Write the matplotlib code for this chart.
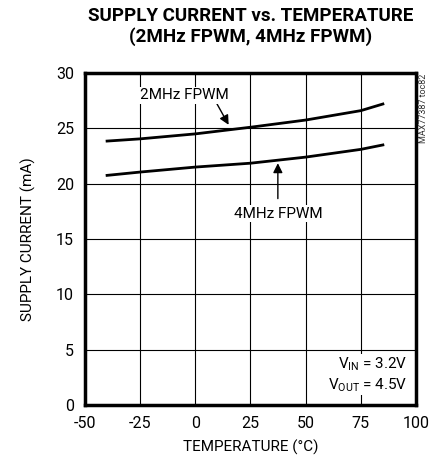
import matplotlib
matplotlib.use('Agg')
import matplotlib.pyplot as plt
from matplotlib import font_manager

names = set(f.name for f in font_manager.fontManager.ttflist)
if 'Liberation Sans Narrow' in names:
    fam = ['Liberation Sans Narrow', 'DejaVu Sans']
else:
    fam = ['Roboto', 'DejaVu Sans']
plt.rcParams['font.family'] = fam
plt.rcParams['mathtext.fontset'] = 'custom'
plt.rcParams['mathtext.rm'] = fam[0]
plt.rcParams['axes.unicode_minus'] = False

# data
temp = [-40, -25, 0, 25, 50, 75, 85]
i_2mhz = [23.85, 24.05, 24.5, 25.1, 25.75, 26.6, 27.2]
i_4mhz = [20.75, 21.05, 21.5, 21.85, 22.4, 23.1, 23.5]

fig = plt.figure(figsize=(4.3, 4.63), dpi=100)
ax = fig.add_axes([0.1977, 0.1253, 0.7697, 0.717])

ax.plot(temp, i_2mhz, color='black', lw=2)
ax.plot(temp, i_4mhz, color='black', lw=2)

ax.set_xlim(-50, 100)
ax.set_ylim(0, 30)
ax.set_xticks(range(-50, 101, 25))
ax.set_yticks(range(0, 31, 5))
ax.grid(True, color='black', lw=0.8)
ax.tick_params(length=0, labelsize=11.5, pad=8)
for s in ax.spines.values():
    s.set_linewidth(2.5)

ax.set_xlabel('TEMPERATURE (°C)', fontsize=11, labelpad=6)
ax.set_ylabel('SUPPLY CURRENT (mA)', fontsize=11, labelpad=14)

# title centred over the plot area
fig.text(0.5826, 0.985, 'SUPPLY CURRENT vs. TEMPERATURE\n(2MHz FPWM, 4MHz FPWM)',
         fontsize=13.5, fontweight='bold', ha='center', va='top', linespacing=1.15)

ax.annotate('', xy=(15.7, 25.1), xytext=(9, 27.5),
            arrowprops=dict(arrowstyle='-|>', color='black', lw=1, mutation_scale=14))
ax.text(-5, 28.0, '2MHz FPWM', fontsize=11, ha='center', va='center',
        bbox=dict(facecolor='white', edgecolor='none', pad=1))

ax.annotate('', xy=(37.4, 22.1), xytext=(37.4, 18.4),
            arrowprops=dict(arrowstyle='-|>', color='black', lw=1, mutation_scale=14))
ax.text(37.4, 17.3, '4MHz FPWM', fontsize=11, ha='center', va='center',
        bbox=dict(facecolor='white', edgecolor='none', pad=1))

ax.text(96, 1.0, r'$\mathregular{V_{IN}}$ = 3.2V' + '\n' + r'$\mathregular{V_{OUT}}$ = 4.5V',
        fontsize=11, ha='right', va='bottom', linespacing=1.3,
        bbox=dict(facecolor='white', edgecolor='none', pad=1))

fig.text(0.985, 0.84, 'MAX77387 toc82', rotation=90, fontsize=6.5,
         ha='center', va='top', color='#333333')

fig.savefig('out.png', dpi=100)
